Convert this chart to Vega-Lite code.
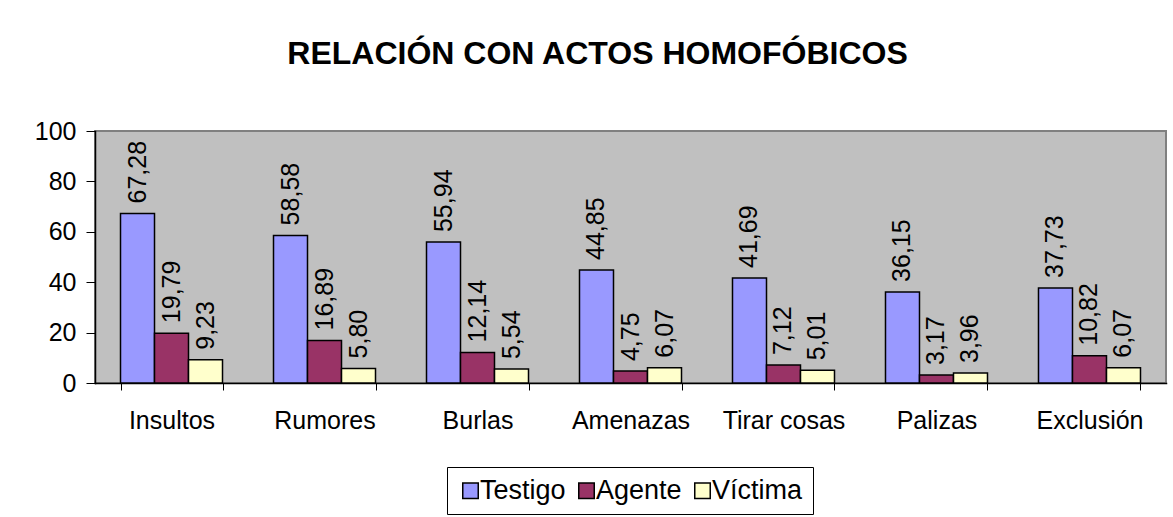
{
  "$schema": "https://vega.github.io/schema/vega-lite/v6.json",
  "autosize": "none",
  "width": 1071,
  "height": 252,
  "padding": {"left": 95, "top": 131, "right": 7, "bottom": 134},
  "background": "white",
  "title": {
    "text": "RELACIÓN CON ACTOS HOMOFÓBICOS",
    "font": "Liberation Sans",
    "fontSize": 32,
    "fontWeight": "bold",
    "color": "black",
    "anchor": "middle",
    "dx": -33,
    "baseline": "alphabetic",
    "offset": 23
  },
  "data": {
    "values": [
      {"cat": "Insultos", "serie": "Testigo", "v": 67.28},
      {"cat": "Insultos", "serie": "Agente", "v": 19.79},
      {"cat": "Insultos", "serie": "Víctima", "v": 9.23},
      {"cat": "Rumores", "serie": "Testigo", "v": 58.58},
      {"cat": "Rumores", "serie": "Agente", "v": 16.89},
      {"cat": "Rumores", "serie": "Víctima", "v": 5.80},
      {"cat": "Burlas", "serie": "Testigo", "v": 55.94},
      {"cat": "Burlas", "serie": "Agente", "v": 12.14},
      {"cat": "Burlas", "serie": "Víctima", "v": 5.54},
      {"cat": "Amenazas", "serie": "Testigo", "v": 44.85},
      {"cat": "Amenazas", "serie": "Agente", "v": 4.75},
      {"cat": "Amenazas", "serie": "Víctima", "v": 6.07},
      {"cat": "Tirar cosas", "serie": "Testigo", "v": 41.69},
      {"cat": "Tirar cosas", "serie": "Agente", "v": 7.12},
      {"cat": "Tirar cosas", "serie": "Víctima", "v": 5.01},
      {"cat": "Palizas", "serie": "Testigo", "v": 36.15},
      {"cat": "Palizas", "serie": "Agente", "v": 3.17},
      {"cat": "Palizas", "serie": "Víctima", "v": 3.96},
      {"cat": "Exclusión", "serie": "Testigo", "v": 37.73},
      {"cat": "Exclusión", "serie": "Agente", "v": 10.82},
      {"cat": "Exclusión", "serie": "Víctima", "v": 6.07}
    ]
  },
  "encoding": {
    "x": {
      "field": "cat",
      "type": "nominal",
      "sort": null,
      "scale": {"paddingInner": 0.3333, "paddingOuter": 0.1667},
      "axis": {
        "title": null,
        "labelAngle": 0,
        "tickBand": "extent",
        "tickSize": 7,
        "tickColor": "black",
        "domainColor": "black",
        "domainWidth": 1.5,
        "labelPadding": 18,
        "labelFontSize": 25,
        "labelFont": "Liberation Sans",
        "labelColor": "black"
      }
    },
    "xOffset": {
      "field": "serie",
      "type": "nominal",
      "sort": ["Testigo", "Agente", "Víctima"],
      "scale": {"paddingInner": 0, "paddingOuter": 0}
    },
    "y": {
      "field": "v",
      "type": "quantitative",
      "scale": {"domain": [0, 100], "nice": false},
      "axis": {
        "title": null,
        "values": [0, 20, 40, 60, 80, 100],
        "grid": false,
        "tickSize": 9,
        "tickColor": "black",
        "domainColor": "black",
        "domainWidth": 1.5,
        "labelPadding": 10,
        "labelFontSize": 25,
        "labelFont": "Liberation Sans",
        "labelColor": "black"
      }
    }
  },
  "layer": [
    {
      "mark": {"type": "bar", "stroke": "black", "strokeWidth": 1.5},
      "encoding": {
        "color": {
          "field": "serie",
          "type": "nominal",
          "sort": ["Testigo", "Agente", "Víctima"],
          "scale": {"domain": ["Testigo", "Agente", "Víctima"], "range": ["#9999FF", "#993366", "#FFFFCC"]},
          "legend": {
            "title": null,
            "orient": "none",
            "direction": "horizontal",
            "legendX": 352,
            "legendY": 336,
            "padding": 10,
            "strokeColor": "black",
            "fillColor": "white",
            "symbolType": "square",
            "symbolSize": 240,
            "symbolStrokeColor": "black",
            "symbolStrokeWidth": 1.5,
            "symbolOpacity": 1,
            "labelFontSize": 27,
            "labelFont": "Liberation Sans",
            "labelColor": "black",
            "labelOffset": -4,
            "columnPadding": 7
          }
        }
      }
    },
    {
      "mark": {"type": "text", "angle": 270, "align": "left", "baseline": "middle", "dx": 10, "fontSize": 25, "font": "Liberation Sans", "color": "black"},
      "encoding": {
        "text": {"field": "v", "type": "quantitative", "format": ".2f"}
      }
    }
  ],
  "config": {
    "locale": {"number": {"decimal": ",", "thousands": ".", "grouping": [3], "currency": ["", " €"]}},
    "view": {"fill": "#C0C0C0", "stroke": "#808080", "strokeWidth": 2},
    "axis": {"domainCap": "square"}
  }
}
